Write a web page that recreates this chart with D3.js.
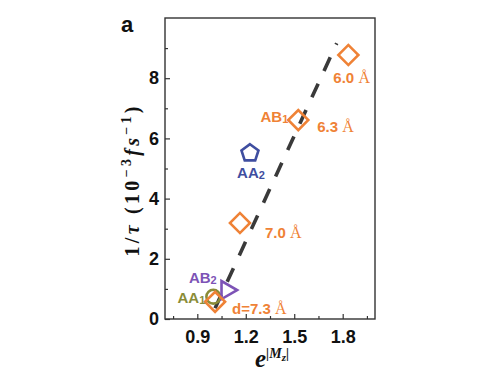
<!DOCTYPE html>
<html><head><meta charset="utf-8">
<script src="https://cdn.jsdelivr.net/npm/d3@7"></script>
<style>body{margin:0;background:#fff}svg{display:block}</style>
</head><body>
<script>
// ---- data ----
const xTicks = [0.9, 1.2, 1.5, 1.8];
const xMinor = [0.75, 1.05, 1.35, 1.65, 1.95];
const yTicks = [0, 2, 4, 6, 8];
const yMinor = [1, 3, 5, 7, 9];
const diamondX = [1.01, 1.164, 1.525, 1.835];
const diamondY = [0.57, 3.19, 6.61, 8.77];
const diamondLabels = ["d=7.3 Å", "7.0 Å", "6.3 Å", "6.0 Å"];
const stackNames = ["AA1", "AA2", "AB1", "AB2"];
const stackX = [0.999, 1.226, 1.525, 1.082];
const stackY = [0.74, 5.51, 6.61, 0.96];
const fitX = [1.01, 1.763];
const fitY = [0.36, 9.16];

const W = 500, H = 374;
const L = 165, R = 375, T = 18, B = 319;
const svg = d3.select("body").append("svg").attr("width", W).attr("height", H);
const x = d3.scaleLinear().domain([0.7, 2.0]).range([L, R]);
const y = d3.scaleLinear().domain([0, 10]).range([B, T]);

const ORANGE = "#ef8236", BLUE = "#3f4ea0", PURPLE = "#7d53b6", OLIVE = "#8a8c38";
const sans = "'Liberation Sans', Arial, sans-serif";
const serif = "'Liberation Serif', 'Times New Roman', serif";

// axes
const gx = svg.append("g").attr("transform", `translate(0,${B})`)
  .call(d3.axisBottom(x).tickValues(xTicks).tickFormat(d3.format(".1f")).tickSize(-5).tickPadding(11));
const gxm = svg.append("g").attr("transform", `translate(0,${B})`)
  .call(d3.axisBottom(x).tickValues(xMinor).tickFormat("").tickSize(-3));
const gy = svg.append("g").attr("transform", `translate(${L},0)`)
  .call(d3.axisLeft(y).tickValues(yTicks).tickFormat(d3.format("d")).tickSize(-5).tickPadding(6));
const gym = svg.append("g").attr("transform", `translate(${L},0)`)
  .call(d3.axisLeft(y).tickValues(yMinor).tickFormat("").tickSize(-3));
[gx, gxm, gy, gym].forEach(g => {
  g.select(".domain").remove();
  g.selectAll("line").attr("stroke", "#333").attr("stroke-width", 1.2);
  g.selectAll("text").attr("font-family", sans).attr("font-weight", "bold")
    .attr("font-size", 18).attr("fill", "#111");
});
svg.append("rect").attr("x", L).attr("y", T).attr("width", R - L).attr("height", B - T)
  .attr("fill", "none").attr("stroke", "#333").attr("stroke-width", 1.4);

// fit line
svg.append("line")
  .attr("x1", x(fitX[0])).attr("y1", y(fitY[0]))
  .attr("x2", x(fitX[1])).attr("y2", y(fitY[1]))
  .attr("stroke", "#3a3a3a").attr("stroke-width", 3.6)
  .attr("stroke-dasharray", "15,14");

// markers
const pentagon = {
  draw(ctx, size) {
    const r = Math.sqrt(size / 2.378);
    for (let i = 0; i < 5; i++) {
      const a = -Math.PI / 2 + i * 2 * Math.PI / 5;
      const px = r * Math.cos(a), py = r * Math.sin(a);
      i ? ctx.lineTo(px, py) : ctx.moveTo(px, py);
    }
    ctx.closePath();
  }
};
const shapeStyle = [
  {type: d3.symbolCircle, size: 150, color: OLIVE, rot: 0},
  {type: pentagon, size: 190, color: BLUE, rot: 0},
  null,
  {type: d3.symbolTriangle, size: 140, color: PURPLE, rot: 90}
];
stackNames.forEach((n, i) => {
  const s = shapeStyle[i];
  if (!s) return;
  svg.append("path")
    .attr("d", d3.symbol().type(s.type).size(s.size)())
    .attr("transform", `translate(${x(stackX[i])},${y(stackY[i])}) rotate(${s.rot})`)
    .attr("fill", "none").attr("stroke", s.color).attr("stroke-width", 2.6);
});
diamondX.forEach((v, i) => {
  svg.append("path")
    .attr("d", d3.symbol().type(d3.symbolSquare).size(200)())
    .attr("transform", `translate(${x(v)},${y(diamondY[i])}) rotate(45)`)
    .attr("fill", "none").attr("stroke", ORANGE).attr("stroke-width", 2.6)
    .attr("stroke-linejoin", "miter");
});

// labels
const dOff = [[17, 12], [25, 15], [19, 12], [-15, 28]];
diamondLabels.forEach((lab, i) => {
  const t = svg.append("text")
    .attr("x", x(diamondX[i]) + dOff[i][0]).attr("y", y(diamondY[i]) + dOff[i][1])
    .attr("font-family", sans).attr("font-weight", "bold").attr("font-size", 15).attr("fill", ORANGE);
  const parts = lab.split("Å");
  t.append("tspan").text(parts[0]);
  t.append("tspan").attr("font-family", serif).attr("font-weight", "normal").attr("font-size", 16).text("Å");
});
const sOff = [[-8, 6, "end"], [1, 25, "middle"], [-10, 2, "end"], [-10, -7, "end"]];
const sColor = [OLIVE, BLUE, ORANGE, PURPLE];
stackNames.forEach((n, i) => {
  const t = svg.append("text")
    .attr("x", x(stackX[i]) + sOff[i][0]).attr("y", y(stackY[i]) + sOff[i][1])
    .attr("text-anchor", sOff[i][2])
    .attr("font-family", sans).attr("font-size", 15).attr("fill", sColor[i]).attr("font-weight", "bold");
  t.append("tspan").text(n.slice(0, 2));
  t.append("tspan").attr("font-size", 11).attr("dy", 1).text(n.slice(2));
});

// panel letter
svg.append("text").attr("x", 121).attr("y", 32).attr("font-family", sans)
  .attr("font-weight", "bold").attr("font-size", 22).attr("fill", "#111").text("a");

// x label
const xl = svg.append("text").attr("x", 255).attr("y", 367)
  .attr("font-family", serif).attr("font-weight", "bold").attr("fill", "#111");
xl.append("tspan").attr("font-size", 25).attr("font-style", "italic").text("e");
xl.append("tspan").attr("font-size", 14).attr("dy", -9).attr("font-style", "italic").text("|M");
xl.append("tspan").attr("font-size", 11).attr("dy", 3).attr("font-style", "italic").text("z");
xl.append("tspan").attr("font-size", 14).attr("dy", -3).attr("font-style", "italic").text("|");

// y label
const yl = svg.append("text")
  .attr("transform", `translate(139,${(T + B) / 2 + 13}) rotate(-90)`)
  .attr("text-anchor", "middle")
  .attr("font-family", serif).attr("font-weight", "bold").attr("font-size", 20).attr("fill", "#111")
  .attr("textLength", 150).attr("lengthAdjust", "spacing");
yl.append("tspan").text("1/");
yl.append("tspan").attr("font-style", "italic").text("τ");
yl.append("tspan").text(" (10");
yl.append("tspan").attr("font-size", 14).attr("dy", -8).text("−3");
yl.append("tspan").attr("dy", 8).attr("font-style", "italic").text("fs");
yl.append("tspan").attr("font-size", 14).attr("dy", -8).text("−1");
yl.append("tspan").attr("dy", 8).text(")");
</script>
</body></html>
